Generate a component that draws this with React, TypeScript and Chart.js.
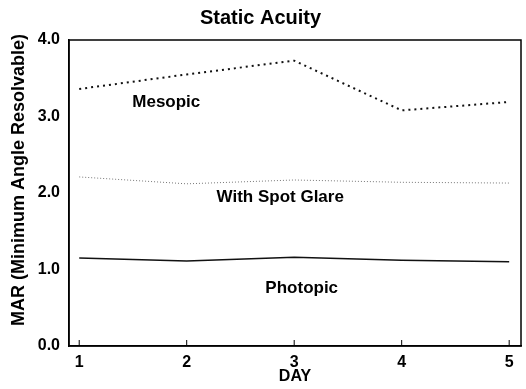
import React, { useEffect, useRef } from "react";
import { Chart, registerables } from "chart.js";

Chart.register(...registerables);

const days = [1, 2, 3, 4, 5];
const mesopic = [3.36, 3.55, 3.73, 3.08, 3.19];
const spotGlare = [2.21, 2.12, 2.17, 2.14, 2.13];
const photopic = [1.15, 1.11, 1.16, 1.12, 1.1];
const yTicks = [0, 1, 2, 3, 4];

const seriesLabels = ["Mesopic", "With Spot Glare", "Photopic"];
const labelAnchors = [
  { x: 1.81, y: 3.18 },
  { x: 2.87, y: 1.94 },
  { x: 3.07, y: 0.75 },
];
const yTitle = "MAR (Minimum Angle Resolvable)";
const yTitleCenterValue = 2.17;

const FONT = "'Liberation Sans', Arial, Helvetica, sans-serif";

const framePlugin = {
  id: "frame",
  afterDraw(chart: any) {
    const { ctx, chartArea, scales } = chart;
    ctx.save();
    ctx.strokeStyle = "#000";
    ctx.lineWidth = 1.5;
    ctx.strokeRect(chartArea.left, chartArea.top, chartArea.right - chartArea.left, chartArea.bottom - chartArea.top);
    // inward x tick marks
    ctx.lineWidth = 1;
    days.forEach((d) => {
      const px = scales.x.getPixelForValue(d);
      ctx.beginPath();
      ctx.moveTo(px, chartArea.bottom);
      ctx.lineTo(px, chartArea.bottom - 6);
      ctx.stroke();
    });
    // series labels
    ctx.fillStyle = "#000";
    ctx.font = `bold 17px ${FONT}`;
    ctx.textAlign = "center";
    ctx.textBaseline = "middle";
    seriesLabels.forEach((t, i) => {
      const a = labelAnchors[i];
      ctx.fillText(t, scales.x.getPixelForValue(a.x), scales.y.getPixelForValue(a.y));
    });
    // y axis title
    ctx.font = `bold 18px ${FONT}`;
    ctx.translate(19, scales.y.getPixelForValue(yTitleCenterValue));
    ctx.rotate(-Math.PI / 2);
    ctx.fillText(yTitle, 0, 0);
    ctx.restore();
  },
};

export default function App() {
  const ref = useRef<HTMLCanvasElement>(null);
  useEffect(() => {
    const toPts = (arr: number[]) => arr.map((v, i) => ({ x: days[i], y: v }));
    const chart = new Chart(ref.current!, {
      type: "line",
      data: {
        datasets: [
          {
            label: seriesLabels[0],
            data: toPts(mesopic),
            borderColor: "#111",
            borderWidth: 2,
            borderDash: [2, 4],
            pointRadius: 0,
            tension: 0,
          },
          {
            label: seriesLabels[1],
            data: toPts(spotGlare),
            borderColor: "#777",
            borderWidth: 1,
            borderDash: [1, 2],
            pointRadius: 0,
            tension: 0,
          },
          {
            label: seriesLabels[2],
            data: toPts(photopic),
            borderColor: "#111",
            borderWidth: 1.5,
            pointRadius: 0,
            tension: 0,
          },
        ],
      },
      options: {
        responsive: false,
        animation: false,
        layout: { padding: { top: 0, right: 5, left: 0, bottom: 0 } },
        plugins: {
          legend: { display: false },
          tooltip: { enabled: false },
          title: {
            display: true,
            text: "Static Acuity",
            color: "#000",
            font: { family: FONT, size: 20, weight: "bold" },
            padding: { top: 6, bottom: 10 },
          },
        },
        scales: {
          x: {
            type: "linear",
            min: 0.905,
            max: 5.11,
            afterBuildTicks: (s: any) => {
              s.ticks = days.map((v) => ({ value: v }));
            },
            afterFit: (s: any) => {
              s.height = 43;
            },
            grid: { display: false, drawTicks: false },
            border: { display: true, color: "#000", width: 1.5 },
            ticks: {
              color: "#000",
              padding: 7,
              font: { family: FONT, size: 16, weight: "bold" },
              callback: (v: any) => String(v),
            },
            title: {
              display: true,
              text: "DAY",
              color: "#000",
              font: { family: FONT, size: 16, weight: "bold" },
              padding: { top: 0, bottom: 3 },
            },
          },
          y: {
            min: 0,
            max: 4,
            afterBuildTicks: (s: any) => {
              s.ticks = yTicks.map((v) => ({ value: v }));
            },
            afterFit: (s: any) => {
              s.width = 69;
            },
            grid: { display: false, drawTicks: false },
            border: { display: true, color: "#000", width: 1.5 },
            ticks: {
              color: "#000",
              padding: 9,
              font: { family: FONT, size: 16, weight: "bold" },
              callback: (v: any) => Number(v).toFixed(1),
            },
            title: { display: false },
          },
        },
      },
      plugins: [framePlugin],
    });
    return () => chart.destroy();
  }, []);
  return (
    <div style={{ position: "absolute", left: 0, top: 0, width: 526, height: 389, background: "#fff" }}>
      <canvas ref={ref} width={526} height={389} />
    </div>
  );
}
